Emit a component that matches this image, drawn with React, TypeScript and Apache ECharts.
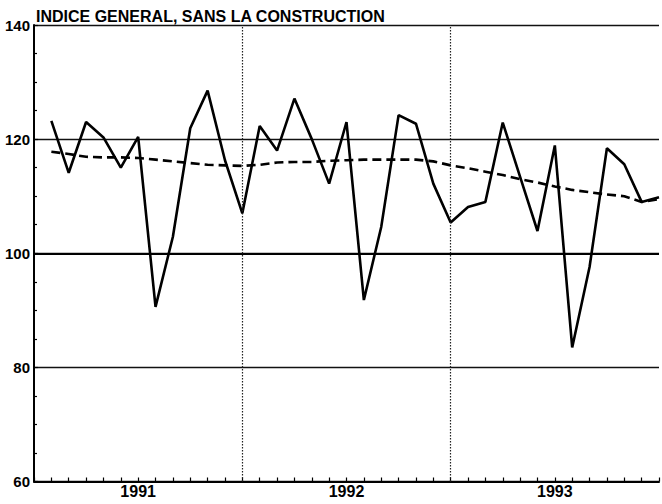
import React, { useEffect, useRef } from "react";
import * as echarts from "echarts";

// Month index 0 = first observation (1991); year boundaries fall on index 11 and 23
const years = ["1991", "1992", "1993"];
const monthIndex = Array.from({ length: 36 }, (_, i) => i);

const indexValues = [
  123.2, 114.1, 123.0, 120.3, 115.0, 120.4, 90.6, 102.9, 121.9, 128.5, 116.3, 107.0,
  122.3, 118.0, 127.1, 120.0, 112.2, 123.0, 91.8, 104.6, 124.2, 122.7, 112.2, 105.4,
  108.1, 109.0, 122.9, 113.4, 103.9, 118.9, 83.5, 97.6, 118.4, 115.6, 109.0, 109.8,
];

const trendValues = [
  117.8, 117.4, 116.9, 116.8, 116.8, 116.7, 116.4, 116.1, 115.8, 115.5, 115.4, 115.3,
  115.5, 115.9, 116.0, 116.0, 116.2, 116.3, 116.4, 116.4, 116.4, 116.4, 116.1, 115.4,
  114.9, 114.3, 113.7, 113.0, 112.4, 111.7, 111.1, 110.7, 110.3, 110.0, 109.0, 109.5,
];

const yTicks = [60, 80, 100, 120, 140];
const title = "INDICE GENERAL, SANS LA CONSTRUCTION";

export default function App() {
  const ref = useRef<HTMLDivElement>(null);

  useEffect(() => {
    if (!ref.current) return;
    const chart = echarts.init(ref.current, null, { renderer: "svg" });
    const font = "'Liberation Sans', Arial, Helvetica, sans-serif";
    const yearBoundaries = years.slice(1).map((_, k) => 12 * (k + 1) - 1);

    chart.setOption({
      animation: false,
      backgroundColor: "#fff",
      title: {
        text: title,
        left: 36,
        top: 8,
        padding: 0,
        textStyle: { fontFamily: font, fontSize: 16, fontWeight: "bold", color: "#000" },
      },
      grid: { left: 34, right: -4, top: 25, bottom: 22.5, containLabel: false },
      xAxis: {
        type: "value",
        min: -1,
        max: 35,
        interval: 1,
        axisLine: { show: true, onZero: false, lineStyle: { color: "#000", width: 2 } },
        axisTick: { show: true, inside: true, length: 4, lineStyle: { color: "#000", width: 1.2 } },
        splitLine: { show: false },
        axisLabel: {
          show: true,
          interval: 0,
          margin: 2,
          fontFamily: font,
          fontSize: 16,
          fontWeight: "bold",
          color: "#000",
          formatter: (v: number) => {
            const k = (v + 1 - 6) / 12;
            return Number.isInteger(k) && k >= 0 && k < years.length ? years[k] : "";
          },
        },
      },
      yAxis: {
        type: "value",
        min: yTicks[0],
        max: yTicks[yTicks.length - 1],
        interval: 20,
        axisLine: { show: true, onZero: false, lineStyle: { color: "#000", width: 2 } },
        axisTick: { show: true, inside: true, length: 4, lineStyle: { color: "#000", width: 1.2 } },
        minorTick: { show: true, splitNumber: 4, length: 3, lineStyle: { color: "#000", width: 1.2 } },
        splitLine: { show: true, lineStyle: { color: "#111", width: 1.3 } },
        axisLabel: {
          margin: 4,
          fontFamily: font,
          fontSize: 15,
          fontWeight: "bold",
          color: "#000",
        },
      },
      series: [
        {
          type: "line",
          data: monthIndex.map((i) => [i, trendValues[i]]),
          symbol: "none",
          lineStyle: { color: "#000", width: 2.6, type: [9, 5] },
          z: 3,
          markLine: {
            silent: true,
            symbol: "none",
            label: { show: false },
            data: [
              { yAxis: 100, lineStyle: { color: "#000", width: 2.2, type: "solid" } },
              ...yearBoundaries.map((b) => ({
                xAxis: b,
                lineStyle: { color: "#222", width: 1.2, type: [1.5, 1.5] },
              })),
            ],
          },
        },
        {
          type: "line",
          data: monthIndex.map((i) => [i, indexValues[i]]),
          symbol: "none",
          lineStyle: { color: "#000", width: 2.6 },
          z: 4,
        },
      ],
    });
    return () => chart.dispose();
  }, []);

  return (
    <div
      ref={ref}
      style={{ position: "absolute", left: 0, top: 0, width: 662, height: 504 }}
    />
  );
}
